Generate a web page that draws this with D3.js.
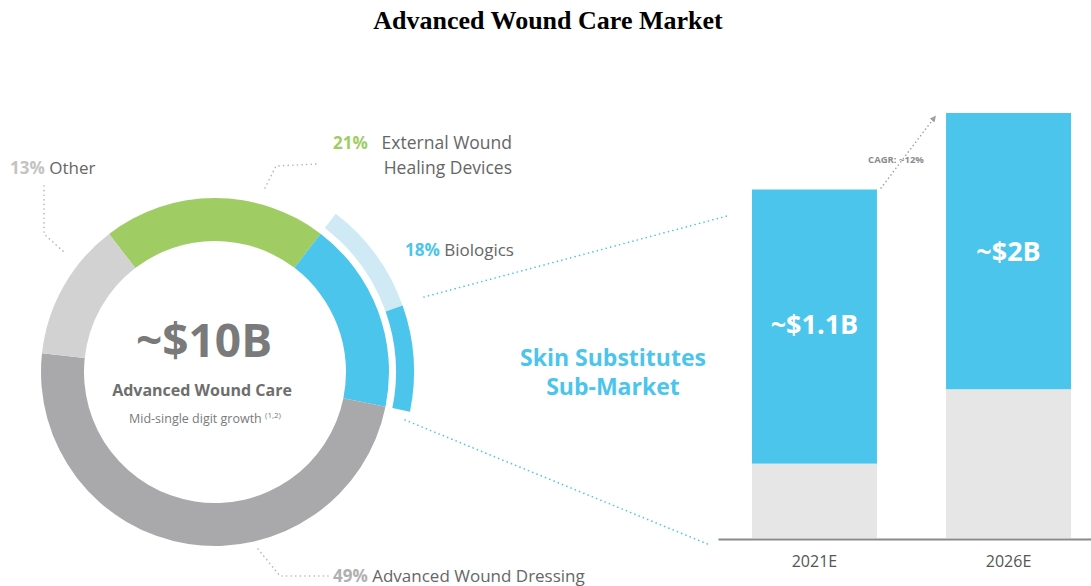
<!DOCTYPE html>
<html>
<head>
<meta charset="utf-8">
<script src="https://cdn.jsdelivr.net/npm/d3@7"></script>
<style>
  body { margin: 0; background: #fff; }
  text { font-family: "Open Sans", sans-serif; }
</style>
</head>
<body>
<div id="chart"></div>
<script>
// market split of the ~$10B advanced wound care market (percent)
var segNames = ['External Wound Healing Devices', 'Biologics', 'Advanced Wound Dressing', 'Other']
var segValues = [21, 18, 49, 13]
var segColors = ['#9fcd63', '#4bc5ec', '#a9a9ab', '#d2d2d2']

// biologics split shown in the outer band (other biologics / skin substitutes)
var bandNames = ['Other Biologics', 'Skin Substitutes']
var bandValues = [9.3, 8.7]
var bandColors = ['#cfe9f5', '#4bc5ec']

// skin substitutes sub-market bars
var years = ['2021E', '2026E']
var baseValues = [0.35, 0.70]
var topValues = [1.29, 1.30]
var barLabels = ['~$1.1B', '~$2B']

var width = 1091
    height = 586

var svg = d3.select('#chart')
  .append('svg')
    .attr('width', width)
    .attr('height', height)

svg.append('text')
  .attr('x', 548)
  .attr('y', 29)
  .attr('text-anchor', 'middle')
  .style('font-family', '"Liberation Serif", "Times New Roman", serif')
  .style('font-size', '26px')
  .style('font-weight', 'bold')
  .text('Advanced Wound Care Market')

// ---- donut ----
var cx = 215, cy = 372
var startA = -37.5 * Math.PI / 180

var pie = d3.pie()
  .sort(null)
  .startAngle(startA)
  .endAngle(startA + 2 * Math.PI)
  .value(function(d) { return d })

var slices = pie(segValues)

var arcMain = d3.arc()
  .innerRadius(131)
  .outerRadius(174)

var donut = svg.append('g')
  .attr('transform', 'translate(' + cx + ',' + cy + ')')

donut.selectAll('path.seg')
  .data(slices)
  .enter()
  .append('path')
    .attr('class', 'seg')
    .attr('d', arcMain)
    .attr('fill', function(d, i) { return segColors[i] })

// outer band over the biologics slice
var bio = slices[1]
var bandScale = d3.scaleLinear()
  .domain([0, d3.sum(bandValues)])
  .range([bio.startAngle, bio.endAngle])

var cum = 0
var bandData = bandValues.map(function(v, i) {
  var a0 = bandScale(cum)
  cum += v
  return { startAngle: a0, endAngle: bandScale(cum), i: i }
})

var arcBand = d3.arc()
  .innerRadius(181)
  .outerRadius(199)

donut.selectAll('path.band')
  .data(bandData)
  .enter()
  .append('path')
    .attr('class', 'band')
    .attr('d', arcBand)
    .attr('fill', function(d) { return bandColors[d.i] })

// centre text
donut.append('text')
  .attr('x', -11)
  .attr('y', -15)
  .attr('text-anchor', 'middle')
  .style('font-size', '46px')
  .style('font-weight', 'bold')
  .style('fill', '#7a7a7a')
  .text('~$10B')

donut.append('text')
  .attr('x', -13)
  .attr('y', 24)
  .attr('text-anchor', 'middle')
  .style('font-size', '16px')
  .style('font-weight', 'bold')
  .style('fill', '#6e6e6e')
  .text('Advanced Wound Care')

var sub = donut.append('text')
  .attr('x', -10)
  .attr('y', 51)
  .attr('text-anchor', 'middle')
  .style('font-size', '12.5px')
  .style('fill', '#7a7a7a')
sub.append('tspan').text('Mid-single digit growth ')
sub.append('tspan').attr('dy', -5).style('font-size', '8px').text('(1,2)')

// ---- leader lines ----
var dotted = function(pts, col) {
  svg.append('path')
    .attr('d', d3.line()(pts))
    .attr('fill', 'none')
    .attr('stroke', col)
    .attr('stroke-width', 1.6)
    .attr('stroke-linecap', 'round')
    .attr('stroke-dasharray', '0.1 4.5')
}
dotted([[44, 186], [44, 234], [64, 252]], '#b5b5b5')
dotted([[265, 188], [276, 166], [318, 164]], '#b5b5b5')
dotted([[258, 549], [280, 576], [328, 576]], '#b5b5b5')
dotted([[424, 297], [727, 216]], '#4bc5ec')
dotted([[405, 420], [710, 545]], '#4bc5ec')

// ---- labels round the donut ----
var lab = function(x, y, pct, pctCol, txt, anchor) {
  var t = svg.append('text')
    .attr('x', x)
    .attr('y', y)
    .style('font-size', '17px')
  t.append('tspan').style('fill', pctCol).style('font-weight', 'bold').text(pct)
  t.append('tspan').style('fill', '#666').text(' ' + txt)
  return t
}
lab(10, 174, '13%', '#c3c3c3', 'Other')
svg.append('text')
  .attr('x', 333).attr('y', 149)
  .style('font-size', '17px').style('font-weight', 'bold').style('fill', '#9fcd63')
  .text('21%')
svg.append('text')
  .attr('x', 512).attr('y', 149)
  .attr('text-anchor', 'end')
  .style('font-size', '17.5px').style('fill', '#666')
  .text('External Wound')
svg.append('text')
  .attr('x', 512).attr('y', 174)
  .attr('text-anchor', 'end')
  .style('font-size', '17.5px').style('fill', '#666')
  .text('Healing Devices')
lab(405, 256, '18%', '#4bc5ec', 'Biologics')
lab(333, 582, '49%', '#b0b0b0', 'Advanced Wound Dressing')

svg.append('text')
  .attr('x', 613).attr('y', 366)
  .attr('text-anchor', 'middle')
  .style('font-size', '23px').style('font-weight', 'bold').style('fill', '#4bc5ec')
  .text('Skin Substitutes')
svg.append('text')
  .attr('x', 613).attr('y', 395)
  .attr('text-anchor', 'middle')
  .style('font-size', '23px').style('font-weight', 'bold').style('fill', '#4bc5ec')
  .text('Sub-Market')

// ---- bars ----
var x = d3.scaleBand()
  .domain(years)
  .range([718, 1105])
  .paddingInner(0.356)
  .paddingOuter(0.175)

var y = d3.scaleLinear()
  .domain([0, 2])
  .range([538, 113])

var bars = years.map(function(yr, i) {
  return { year: yr, base: baseValues[i], top: topValues[i], label: barLabels[i] }
})

svg.selectAll('rect.base')
  .data(bars)
  .enter()
  .append('rect')
    .attr('x', function(d) { return x(d.year) })
    .attr('width', x.bandwidth())
    .attr('y', function(d) { return y(d.base) })
    .attr('height', function(d) { return y(0) - y(d.base) })
    .attr('fill', '#e6e6e6')

svg.selectAll('rect.top')
  .data(bars)
  .enter()
  .append('rect')
    .attr('x', function(d) { return x(d.year) })
    .attr('width', x.bandwidth())
    .attr('y', function(d) { return y(d.base + d.top) })
    .attr('height', function(d) { return y(d.base) - y(d.base + d.top) })
    .attr('fill', '#4bc5ec')

// value labels, roughly a third down the blue part
svg.selectAll('text.val')
  .data(bars)
  .enter()
  .append('text')
    .attr('x', function(d) { return x(d.year) + x.bandwidth() / 2 })
    .attr('y', function(d, i) { return i == 0 ? 334 : 261 })
    .attr('text-anchor', 'middle')
    .style('font-size', '27px')
    .style('font-weight', 'bold')
    .style('fill', '#fff')
    .text(function(d) { return d.label })

var axis = svg.append('g')
  .attr('transform', 'translate(0,' + 539 + ')')
  .call(d3.axisBottom(x).tickSize(0).tickPadding(17))
axis.select('.domain').attr('stroke', '#8a8a8a').attr('stroke-width', 2)
axis.selectAll('text')
  .style('font-family', '"Open Sans", sans-serif')
  .style('font-size', '16px')
  .style('fill', '#555')

// CAGR arrow
svg.append('defs').append('marker')
  .attr('id', 'arr')
  .attr('viewBox', '0 0 10 10')
  .attr('refX', 5).attr('refY', 5)
  .attr('markerWidth', 4).attr('markerHeight', 4)
  .attr('orient', 'auto')
  .append('path')
    .attr('d', 'M0,0 L10,5 L0,10 Z')
    .attr('fill', '#a0a0a0')

svg.append('path')
  .attr('d', d3.line()([[881, 188], [934, 118]]))
  .attr('stroke', '#a0a0a0')
  .attr('stroke-width', 1.6)
  .attr('stroke-linecap', 'round')
  .attr('stroke-dasharray', '0.1 4')
  .attr('marker-end', 'url(#arr)')

svg.append('text')
  .attr('x', 896).attr('y', 163)
  .attr('text-anchor', 'middle')
  .style('font-size', '9.5px').style('font-weight', 'bold').style('fill', '#8c8c8c')
  .text('CAGR: ~12%')
</script>
</body>
</html>
